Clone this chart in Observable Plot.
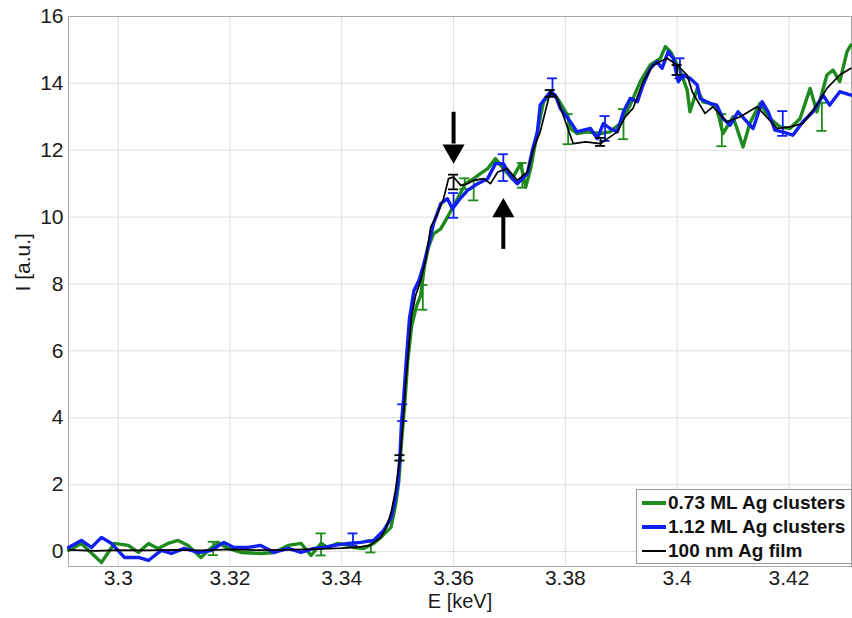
<!DOCTYPE html>
<html><head><meta charset="utf-8">
<script src="https://cdn.jsdelivr.net/npm/d3@7"></script>
<script src="https://cdn.jsdelivr.net/npm/@observablehq/plot@0.6"></script>
<style>
body{margin:0;background:#fff;}
#wrap{position:relative;width:852px;height:618px;overflow:hidden;}
#legend{position:absolute;left:636px;top:489px;width:216px;height:75px;border:1px solid #9a9a9a;background:#fff;box-sizing:border-box;padding-top:1px;font:bold 19px "Liberation Sans",Arial,sans-serif;letter-spacing:0;color:#111;}
.row{display:flex;align-items:center;height:24px;white-space:nowrap;}
.sw{width:24px;margin-left:5px;margin-right:2px;}
</style></head><body><div id="wrap"></div>
<script>
// 0.73 ML Ag clusters  [E keV, I a.u.]
const green073 = [[3.2911,0.03],[3.2934,0.24],[3.2970,-0.33],[3.2993,0.24],[3.3018,0.18],[3.3036,-0.03],[3.3054,0.24],[3.3071,0.09],[3.3089,0.24],[3.3107,0.33],[3.3125,0.18],[3.3148,-0.18],[3.3161,0.03],[3.3179,0.27],[3.3196,0.09],[3.3220,-0.03],[3.3255,-0.06],[3.3279,-0.03],[3.3304,0.18],[3.3327,0.24],[3.3345,-0.12],[3.3363,0.24],[3.3375,0.12],[3.3393,0.24],[3.3411,0.18],[3.3421,0.12],[3.3439,0.09],[3.3457,0.24],[3.3470,0.42],[3.3488,0.72],[3.3496,1.37],[3.3502,2.1],[3.3507,3.3],[3.3513,4.5],[3.3518,5.7],[3.3525,6.75],[3.3534,7.35],[3.3541,7.65],[3.3548,8.55],[3.3555,9.1],[3.3564,9.5],[3.3577,9.65],[3.3589,10.0],[3.3607,10.55],[3.3621,11.0],[3.3636,11.15],[3.3648,11.3],[3.3661,11.45],[3.3675,11.75],[3.3689,11.45],[3.3705,11.15],[3.3720,11.6],[3.3729,10.9],[3.3738,11.45],[3.3750,12.55],[3.3761,13.45],[3.3773,13.7],[3.3786,13.55],[3.3804,13.05],[3.3809,12.65],[3.3821,12.5],[3.3839,12.55],[3.3863,12.5],[3.3880,12.55],[3.3898,12.8],[3.3916,13.35],[3.3934,14.05],[3.3952,14.55],[3.3970,14.75],[3.3979,15.1],[3.3988,14.95],[3.4005,14.4],[3.4018,13.8],[3.4023,13.15],[3.4036,13.85],[3.4046,13.45],[3.4059,13.4],[3.4071,13.25],[3.4082,12.5],[3.4100,13.0],[3.4118,12.1],[3.4130,12.8],[3.4148,13.4],[3.4166,12.95],[3.4184,12.7],[3.4202,12.65],[3.4220,12.95],[3.4238,13.85],[3.4250,13.15],[3.4268,14.25],[3.4279,14.4],[3.4291,14.05],[3.4304,14.95],[3.4311,15.15]];
// 1.12 ML Ag clusters
const blue112 = [[3.2911,0.12],[3.2934,0.33],[3.2952,0.12],[3.2970,0.42],[3.2988,0.24],[3.3011,-0.18],[3.3036,-0.18],[3.3054,-0.27],[3.3077,0.03],[3.3095,-0.06],[3.3118,0.09],[3.3143,-0.03],[3.3166,0.03],[3.3189,0.27],[3.3207,0.12],[3.3232,0.12],[3.3255,0.18],[3.3279,-0.03],[3.3304,0.09],[3.3327,-0.03],[3.3350,0.09],[3.3368,0.12],[3.3386,0.18],[3.3411,0.24],[3.3434,0.27],[3.3457,0.33],[3.3475,0.63],[3.3488,1.0],[3.3495,1.5],[3.3500,2.0],[3.3504,2.85],[3.3507,3.9],[3.3511,4.65],[3.3516,5.85],[3.3521,6.95],[3.3529,7.8],[3.3538,8.1],[3.3546,8.55],[3.3555,9.15],[3.3564,9.8],[3.3577,10.4],[3.3589,10.55],[3.3598,10.25],[3.3609,10.5],[3.3625,10.8],[3.3643,11.0],[3.3661,11.15],[3.3675,11.6],[3.3689,11.6],[3.3705,11.15],[3.3714,11.0],[3.3732,11.3],[3.3741,12.0],[3.3750,12.55],[3.3755,13.35],[3.3773,13.75],[3.3782,13.65],[3.3791,13.25],[3.3809,12.85],[3.3821,12.55],[3.3832,12.6],[3.3845,12.65],[3.3857,12.35],[3.3868,12.8],[3.3880,12.65],[3.3893,12.55],[3.3904,13.15],[3.3916,13.55],[3.3929,13.45],[3.3939,13.95],[3.3952,14.45],[3.3964,14.65],[3.3973,14.45],[3.3984,14.95],[3.3993,14.75],[3.4002,14.05],[3.4011,14.25],[3.4023,14.15],[3.4036,13.95],[3.4041,13.55],[3.4059,13.4],[3.4071,13.35],[3.4082,12.95],[3.4095,12.75],[3.4109,13.15],[3.4125,12.85],[3.4136,12.65],[3.4152,13.45],[3.4163,13.15],[3.4175,12.6],[3.4189,12.55],[3.4207,12.45],[3.4225,12.85],[3.4243,13.15],[3.4261,13.65],[3.4273,13.35],[3.4291,13.75],[3.4311,13.65]];
// 100 nm Ag film
const black100 = [[3.2912,0.05],[3.2960,0.02],[3.3000,0.04],[3.3050,0.03],[3.3100,0.05],[3.3150,0.03],[3.3200,0.06],[3.3250,0.04],[3.3300,0.05],[3.3350,0.07],[3.3400,0.10],[3.3430,0.13],[3.3450,0.18],[3.3470,0.42],[3.3480,0.72],[3.3489,1.22],[3.3496,1.82],[3.3504,2.78],[3.3509,3.76],[3.3514,4.95],[3.3520,6.15],[3.3525,7.05],[3.3532,7.65],[3.3541,8.1],[3.3550,8.7],[3.3559,9.7],[3.3570,10.05],[3.3582,10.55],[3.3591,11.15],[3.3600,11.2],[3.3613,10.95],[3.3625,11.0],[3.3636,11.1],[3.3654,11.15],[3.3666,11.0],[3.3679,11.35],[3.3696,11.45],[3.3714,11.1],[3.3732,11.35],[3.3743,12.05],[3.3755,12.55],[3.3773,13.75],[3.3784,13.6],[3.3795,13.1],[3.3814,12.2],[3.3836,12.25],[3.3863,12.2],[3.3880,12.4],[3.3893,12.55],[3.3907,13.0],[3.3921,13.25],[3.3939,14.05],[3.3957,14.55],[3.3982,14.75],[3.4000,14.55],[3.4018,14.25],[3.4027,13.75],[3.4041,13.35],[3.4050,13.1],[3.4064,13.3],[3.4089,12.85],[3.4113,13.0],[3.4143,13.3],[3.4179,12.65],[3.4202,12.7],[3.4225,12.8],[3.4250,13.35],[3.4268,13.85],[3.4291,14.25],[3.4311,14.45]];
// error bars [E, I, half-length]
const green073Err = [[3.3170,0.09,0.2],[3.3363,0.21,0.33],[3.3452,0.15,0.18],[3.3545,7.6,0.37],[3.3620,11.0,0.16],[3.3636,10.8,0.3],[3.3723,11.25,0.37],[3.3805,12.63,0.45],[3.3904,12.78,0.45],[3.4080,12.6,0.48],[3.4259,13.0,0.42]];
const blue112Err = [[3.3420,0.36,0.18],[3.3509,4.15,0.25],[3.3600,10.35,0.37],[3.3689,11.48,0.4],[3.3777,13.88,0.27],[3.3871,12.65,0.37],[3.4005,14.45,0.3],[3.4189,12.8,0.37]];
const black100Err = [[3.3504,2.8,0.08],[3.3600,11.05,0.22],[3.3773,13.7,0.1],[3.3863,12.25,0.12],[3.4000,14.4,0.15]];
// annotation arrows: [E, tail, neck, tip]
const arrowsDown = [[3.3600,13.15,12.2,11.6]];
const arrowsUp = [[3.3689,9.05,10.15,10.57]];

const seriesNames = ["0.73 ML Ag clusters","1.12 ML Ag clusters","100 nm Ag film"];
const seriesColors = ["#1e8a1e","#1020f0","#000000"];
const seriesWidths = [3.4,3.4,1.7];
const seriesData = [green073, blue112, black100];
const seriesErr = [green073Err, blue112Err, black100Err];

const xTicks = [3.30,3.32,3.34,3.36,3.38,3.40,3.42];
const xTickLabels = ["3.3","3.32","3.34","3.36","3.38","3.4","3.42"];
const yTicks = [0,2,4,6,8,10,12,14,16];
const xLabel = "E [keV]";
const yLabel = "I [a.u.]";

const cap = 0.0009;
const marks = [
  Plot.gridX(xTicks, {stroke:"#dedede", strokeOpacity:1}),
  Plot.gridY(yTicks, {stroke:"#dedede", strokeOpacity:1}),
  Plot.frame({stroke:"#a8a8a8"})
];
seriesData.forEach((data, k) => {
  const c = seriesColors[k], err = seriesErr[k];
  marks.push(Plot.line(data, {x: d=>d[0], y: d=>d[1], stroke: c, strokeWidth: seriesWidths[k], strokeLinejoin:"round"}));
  marks.push(Plot.ruleX(err, {x: d=>d[0], y1: d=>d[1]-d[2], y2: d=>d[1]+d[2], stroke: c, strokeWidth: 1.8}));
  marks.push(Plot.ruleY(err, {y: d=>d[1]-d[2], x1: d=>d[0]-cap, x2: d=>d[0]+cap, stroke: c, strokeWidth: 1.8}));
  marks.push(Plot.ruleY(err, {y: d=>d[1]+d[2], x1: d=>d[0]-cap, x2: d=>d[0]+cap, stroke: c, strokeWidth: 1.8}));
});
marks.push(
  Plot.link(arrowsDown, {x1: d=>d[0], x2: d=>d[0], y1: d=>d[1], y2: d=>d[2], stroke:"#000", strokeWidth:4}),
  Plot.link(arrowsUp, {x1: d=>d[0], x2: d=>d[0], y1: d=>d[1], y2: d=>d[2], stroke:"#000", strokeWidth:4}),
  Plot.dot(arrowsDown, {x: d=>d[0], y: d=>d[3], symbol:"triangle", r:8.2, fill:"#000", stroke:"none", rotate:180, dy:-12.7}),
  Plot.dot(arrowsUp, {x: d=>d[0], y: d=>d[3], symbol:"triangle", r:8.2, fill:"#000", stroke:"none", dy:12.7}),
  Plot.axisX({ticks: xTicks, tickFormat: d => xTickLabels[xTicks.indexOf(d)], tickSize:0, tickPadding:4, label:null, fontSize:21}),
  Plot.axisY({ticks: yTicks, tickSize:0, tickPadding:5, label:null, fontSize:21}),
  Plot.text([xLabel], {frameAnchor:"bottom", dy:41, fontSize:20, fill:"#1a1a1a"}),
  Plot.text([yLabel], {frameAnchor:"left", dx:-45, rotate:-90, fontSize:21, fill:"#1a1a1a"})
);

const chart = Plot.plot({
  width: 852, height: 618,
  marginLeft: 68, marginRight: 1, marginTop: 16, marginBottom: 52,
  x: {domain: [3.2911, 3.4312]},
  y: {domain: [-0.45, 16]},
  style: {fontFamily: '"Liberation Sans", Arial, sans-serif', fontSize: "21px", color: "#1a1a1a", background: "#fff"},
  marks
});
const wrap = document.getElementById("wrap");
wrap.appendChild(chart);

const legend = document.createElement("div");
legend.id = "legend";
seriesNames.forEach((name, k) => {
  const row = document.createElement("div");
  row.className = "row";
  const sw = document.createElement("div");
  sw.className = "sw";
  sw.style.height = (k < 2 ? 4 : 2) + "px";
  sw.style.background = seriesColors[k];
  const t = document.createElement("span");
  t.textContent = name;
  row.appendChild(sw); row.appendChild(t);
  legend.appendChild(row);
});
wrap.appendChild(legend);
</script>
</body></html>
